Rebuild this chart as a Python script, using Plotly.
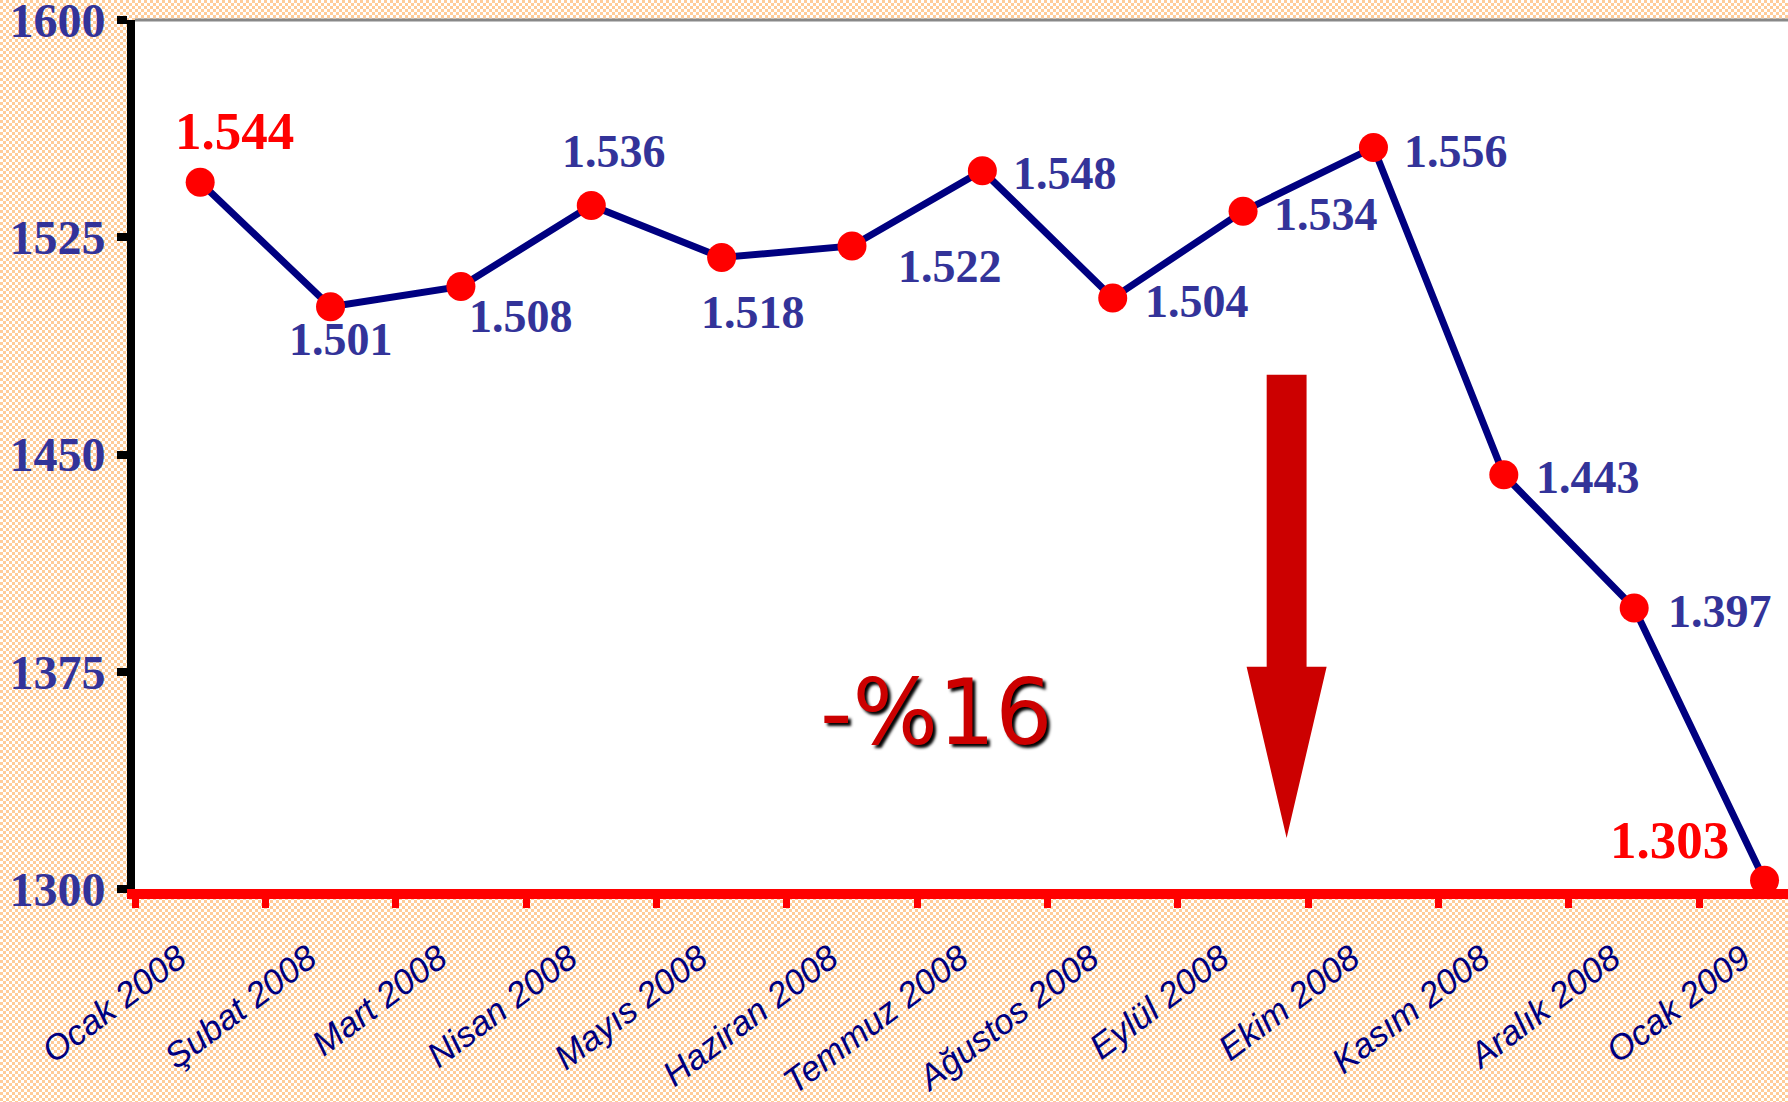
from urllib.parse import quote

import plotly.graph_objects as go

# aylar ve değerler
months = ['Ocak 2008', 'Şubat 2008', 'Mart 2008', 'Nisan 2008', 'Mayıs 2008',
          'Haziran 2008', 'Temmuz 2008', 'Ağustos 2008', 'Eylül 2008',
          'Ekim 2008', 'Kasım 2008', 'Aralık 2008', 'Ocak 2009']
values = [1544, 1501, 1508, 1536, 1518, 1522, 1548, 1504, 1534, 1556, 1443, 1397, 1303]
y_ticks = [1300, 1375, 1450, 1525, 1600]
change_text = '-%16'

# etiket kaydırmaları (piksel)
label_shift = [(34, 51), (10, -33), (60, -30), (23, 54), (31, -55), (98, -21), (83, -3),
               (84, -3), (83, -3), (83, -4), (84, -3), (86, -3), (-95, 40)]

W, H = 1788, 1102
ML, MT, MR, MB = 135, 20, 0, 213

NAVY = '#000080'
LABEL_BLUE = '#333399'
DARK_RED = '#CC0000'

fig = go.Figure()
fig.add_trace(go.Scatter(
    x=months, y=values,
    mode='lines+markers',
    line=dict(color=NAVY, width=7),
    marker=dict(color='red', size=29),
    cliponaxis=False,
    hoverinfo='skip',
))

# veri etiketleri
annotations = []
for i, (m, v) in enumerate(zip(months, values)):
    highlight = i == 0 or i == len(values) - 1
    dx, dy = label_shift[i]
    annotations.append(dict(
        x=m, y=v, xref='x', yref='y',
        text=f'{v:,}'.replace(',', '.'),
        showarrow=False, xshift=dx, yshift=dy,
        xanchor='center', yanchor='middle',
        font=dict(family='Liberation Serif', weight=700,
                  size=53 if highlight else 46,
                  color='red' if highlight else LABEL_BLUE),
    ))

annotations.append(dict(
    x=5.65, y=1361, xref='x', yref='y', text=change_text, showarrow=False,
    xanchor='center', yanchor='middle',
    font=dict(family='DejaVu Sans', size=90, color=DARK_RED,
              shadow='3px 3px 3px #000000'),
))

# aşağı ok
ax, hw_shaft, hw_head = 8.334, 0.153, 0.307
y_top, y_base, y_tip = 1477.5, 1376.7, 1317.6
arrow_path = (f'M {ax - hw_shaft} {y_top} L {ax + hw_shaft} {y_top} '
              f'L {ax + hw_shaft} {y_base} L {ax + hw_head} {y_base} '
              f'L {ax} {y_tip} L {ax - hw_head} {y_base} '
              f'L {ax - hw_shaft} {y_base} Z')

shapes = [
    # çizim alanı beyaz
    dict(type='rect', xref='paper', yref='paper', x0=0, x1=1, y0=0, y1=1,
         fillcolor='white', line=dict(width=0), layer='below'),
    dict(type='path', xref='x', yref='y', path=arrow_path,
         fillcolor=DARK_RED, line=dict(width=0), layer='above'),
    dict(type='line', xref='paper', yref='paper', x0=0, x1=1, y0=1, y1=1,
         line=dict(color='#888888', width=3)),
]

# şeftali damalı arka plan
svg = ('<svg xmlns="http://www.w3.org/2000/svg" width="%d" height="%d">'
       '<defs><pattern id="p" width="6" height="6" patternUnits="userSpaceOnUse">'
       '<rect width="6" height="6" fill="#ffffff"/>'
       '<rect width="3" height="3" fill="#ffcc99"/>'
       '<rect x="3" y="3" width="3" height="3" fill="#ffcc99"/>'
       '</pattern></defs><rect width="100%%" height="100%%" fill="url(#p)"/></svg>') % (W, H)
pw, ph = W - ML - MR, H - MT - MB
bg_image = dict(
    source='data:image/svg+xml;charset=utf-8,' + quote(svg),
    xref='paper', yref='paper', x=-ML / pw, y=1 + MT / ph,
    sizex=W / pw, sizey=H / ph, xanchor='left', yanchor='top',
    sizing='stretch', layer='below',
)

fig.update_layout(
    width=W, height=H,
    margin=dict(l=ML, r=MR, t=MT, b=MB),
    paper_bgcolor='#ffe5cc',
    plot_bgcolor='white',
    showlegend=False,
    annotations=annotations,
    shapes=shapes,
    images=[bg_image],
    xaxis=dict(
        type='category', range=[-0.5, 12.18], automargin=False,
        tickson='boundaries', ticks='outside', ticklen=9, tickwidth=7,
        tickcolor='red', showline=True, linecolor='red', linewidth=10,
        showgrid=False, tickangle=-37, ticklabelstandoff=25, ticklabelshift=-22,
        tickfont=dict(family='Liberation Sans', style='italic', size=35, color=NAVY),
    ),
    yaxis=dict(
        range=[1300, 1600], tickvals=y_ticks, automargin=False,
        ticks='outside', ticklen=10, tickwidth=8, tickcolor='black',
        showline=True, linecolor='black', linewidth=8,
        showgrid=False, zeroline=False, ticklabelstandoff=2,
        ticklabeloverflow='allow',
        tickfont=dict(family='Liberation Serif', weight=700, size=48, color=LABEL_BLUE),
    ),
)

# sayfa kenar boşluğunu kaldır
fig.write_html('out.html', config={'displayModeBar': False},
               post_script="document.body.style.margin='0';")
